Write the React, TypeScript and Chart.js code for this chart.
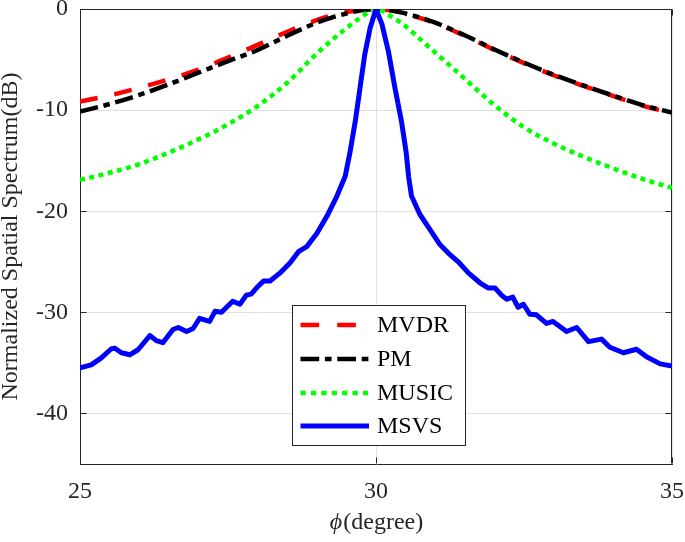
import React, { useEffect, useRef } from "react";
import { Chart, registerables } from "chart.js";

Chart.register(...registerables);

// ---- data ----
const phiGrid = [25, 25.5, 26, 26.5, 27, 27.5, 28, 28.5, 29, 29.25, 29.5, 29.75, 30, 30.25, 30.5, 30.75, 31, 31.5, 32, 32.5, 33, 33.5, 34, 34.5, 35];
const mvdr = [-9.15, -8.55, -7.8, -6.95, -6.0, -4.8, -3.55, -2.25, -1.1, -0.65, -0.3, -0.08, 0, -0.13, -0.48, -0.9, -1.4, -2.65, -4.05, -5.35, -6.55, -7.6, -8.6, -9.55, -10.3];
const pm = [-10.15, -9.4, -8.5, -7.45, -6.3, -5.15, -4.05, -2.65, -1.35, -0.85, -0.45, -0.12, 0, -0.12, -0.45, -0.85, -1.35, -2.6, -4.0, -5.3, -6.5, -7.55, -8.55, -9.5, -10.25];
const music = [-16.9, -16.2, -15.35, -14.2, -12.9, -11.4, -9.6, -7.3, -4.4, -3.1, -1.9, -0.8, 0, -0.7, -1.7, -3.0, -4.3, -6.9, -9.5, -11.7, -13.3, -14.6, -15.75, -16.8, -17.7];

const msvsPhi = [25.0, 25.19, 25.36, 25.53, 25.59, 25.7, 25.84, 25.98, 26.18, 26.29, 26.4, 26.57, 26.66, 26.8, 26.91, 27.02, 27.19, 27.28, 27.39, 27.58, 27.7, 27.81, 27.89, 27.98, 28.1, 28.21, 28.38, 28.55, 28.69, 28.83, 29.0, 29.17, 29.34, 29.48, 29.56, 29.65, 29.73, 29.81, 29.9, 30.0, 30.1, 30.21, 30.32, 30.43, 30.51, 30.55, 30.6, 30.74, 30.91, 31.08, 31.25, 31.39, 31.56, 31.76, 31.9, 32.01, 32.12, 32.21, 32.31, 32.4, 32.49, 32.6, 32.71, 32.88, 32.99, 33.22, 33.39, 33.59, 33.81, 33.95, 34.18, 34.4, 34.57, 34.8, 35.0];
const msvs = [-35.5, -35.2, -34.5, -33.6, -33.55, -34.0, -34.2, -33.7, -32.3, -32.8, -33.0, -31.7, -31.5, -31.9, -31.6, -30.6, -30.9, -29.9, -30.0, -28.9, -29.2, -28.3, -28.2, -27.6, -26.9, -26.9, -26.1, -25.1, -24.0, -23.5, -22.2, -20.5, -18.5, -16.55, -14.2, -11.1, -7.8, -4.5, -1.9, 0, -1.5, -4.2, -7.8, -11.1, -14.2, -16.55, -18.5, -20.3, -21.8, -23.3, -24.3, -25.0, -26.1, -27.1, -27.6, -27.6, -28.3, -28.7, -28.5, -29.5, -29.2, -30.2, -30.25, -31.1, -30.9, -31.9, -31.5, -32.9, -32.65, -33.45, -34.0, -33.65, -34.4, -35.1, -35.3];

const xTicks = [25, 30, 35];
const yTicks = [-40, -30, -20, -10, 0];
const seriesNames = ["MVDR", "PM", "MUSIC", "MSVS"];
const xTitleSymbol = "\u03D5";
const xTitleRest = "(degree)";
const yTitle = "Normalized Spatial Spectrum(dB)";

// ---- styles ----
const FONT = '"Liberation Serif", "Times New Roman", "DejaVu Serif", serif';
const AXIS_COLOR = "#262626";
const GRID_COLOR = "#e0e0e0";
const styles = [
  { color: "#ff0000", width: 4.5, dash: [18, 17], legendDash: [18.7, 18] },
  { color: "#000000", width: 4.5, dash: [18.5, 5.7, 6.5, 5.7], legendDash: [18.7, 5.7, 6.7, 5.7] },
  { color: "#00ff00", width: 4.5, dash: [5, 4.5], legendDash: [5.2, 5.2] },
  { color: "#0000ff", width: 5, dash: [], legendDash: [] },
];

const framePlugin = {
  id: "frameAndLegend",
  beforeDatasetsDraw(chart: any) {
    const { ctx, chartArea: a, scales } = chart;
    const top = Math.round(a.top) + 0.5;
    const right = Math.round(a.right) - 0.5;
    const left = Math.round(a.left) + 0.5;
    const bottom = Math.round(a.bottom) - 0.5;
    ctx.save();
    ctx.strokeStyle = AXIS_COLOR;
    ctx.lineWidth = 1;
    ctx.beginPath();
    ctx.moveTo(left, top);
    ctx.lineTo(right, top);
    ctx.lineTo(right, bottom);
    ctx.stroke();
    const tl = 6;
    ctx.beginPath();
    yTicks.forEach((v) => {
      const y = Math.round(scales.y.getPixelForValue(v)) + 0.5;
      ctx.moveTo(left, y);
      ctx.lineTo(left + tl, y);
      ctx.moveTo(right, y);
      ctx.lineTo(right - tl, y);
    });
    xTicks.forEach((v) => {
      const x = Math.round(scales.x.getPixelForValue(v)) + 0.5;
      ctx.moveTo(x, bottom);
      ctx.lineTo(x, bottom - tl);
      ctx.moveTo(x, top);
      ctx.lineTo(x, top + tl);
    });
    ctx.stroke();
    ctx.restore();
  },
  afterDraw(chart: any) {
    const { ctx, chartArea: a } = chart;
    ctx.save();
    // x axis title with italic phi
    ctx.fillStyle = AXIS_COLOR;
    ctx.textBaseline = "alphabetic";
    ctx.textAlign = "left";
    const symFont = `italic 24px ${FONT}`;
    const restFont = `24px ${FONT}`;
    ctx.font = symFont;
    const w1 = ctx.measureText(xTitleSymbol).width;
    ctx.font = restFont;
    const w2 = ctx.measureText(xTitleRest).width;
    const cx = (a.left + a.right) / 2;
    const x0 = cx - (w1 + w2) / 2;
    const baseY = 529;
    ctx.font = symFont;
    ctx.fillText(xTitleSymbol, x0, baseY);
    ctx.font = restFont;
    ctx.fillText(xTitleRest, x0 + w1 + 1, baseY);

    // legend box
    const bx = 292.5, by = 305.5, bw = 173, bh = 140;
    ctx.fillStyle = "#ffffff";
    ctx.fillRect(bx, by, bw, bh);
    ctx.strokeStyle = AXIS_COLOR;
    ctx.lineWidth = 1;
    ctx.setLineDash([]);
    ctx.strokeRect(bx, by, bw, bh);
    const rowY = [325, 359, 393, 426];
    seriesNames.forEach((name, i) => {
      const s = styles[i];
      ctx.strokeStyle = s.color;
      ctx.lineWidth = s.width;
      ctx.lineCap = "butt";
      ctx.setLineDash(s.legendDash);
      ctx.lineDashOffset = 0;
      ctx.beginPath();
      ctx.moveTo(300.5, rowY[i]);
      ctx.lineTo(369, rowY[i]);
      ctx.stroke();
      ctx.setLineDash([]);
      ctx.fillStyle = "#000000";
      ctx.font = `24px ${FONT}`;
      ctx.textBaseline = "middle";
      ctx.fillText(name, 377, rowY[i] + 1);
    });
    ctx.restore();
  },
};

export default function App() {
  const canvasRef = useRef<HTMLCanvasElement | null>(null);

  useEffect(() => {
    const canvas = canvasRef.current;
    if (!canvas) return;
    const seriesData = [
      phiGrid.map((x, i) => ({ x, y: mvdr[i] })),
      phiGrid.map((x, i) => ({ x, y: pm[i] })),
      phiGrid.map((x, i) => ({ x, y: music[i] })),
      msvsPhi.map((x, i) => ({ x, y: msvs[i] })),
    ];
    const datasets = seriesNames.map((name, i) => ({
      label: name,
      data: seriesData[i],
      borderColor: styles[i].color,
      backgroundColor: styles[i].color,
      borderWidth: styles[i].width,
      borderDash: styles[i].dash,
      borderCapStyle: "butt",
      borderJoinStyle: "round",
      pointRadius: 0,
      pointHoverRadius: 0,
      fill: false,
      tension: 0,
      cubicInterpolationMode: i === 3 ? "default" : "monotone",
      order: 4 - i,
      clip: 0,
    }));

    const tickFont = { family: FONT, size: 24 };
    const chart = new Chart(canvas, {
      type: "line",
      data: { datasets } as any,
      plugins: [framePlugin as any],
      options: {
        responsive: false,
        animation: false,
        devicePixelRatio: 1,
        layout: { padding: { top: 9, right: 13, left: 0, bottom: 0 } },
        plugins: {
          legend: { display: false },
          tooltip: { enabled: false },
          title: { display: false },
        },
        scales: {
          x: {
            type: "linear",
            min: 25,
            max: 35,
            afterBuildTicks: (s: any) => {
              s.ticks = xTicks.map((v) => ({ value: v }));
            },
            afterFit: (s: any) => {
              s.height = 78;
              s.paddingLeft = 0;
              s.paddingRight = 0;
            },
            grid: { color: GRID_COLOR, drawTicks: false, lineWidth: 1 },
            border: { display: true, color: AXIS_COLOR, width: 1 },
            ticks: {
              padding: 13,
              color: AXIS_COLOR,
              font: tickFont,
              maxRotation: 0,
              autoSkip: false,
              callback: (v: any) => String(v),
            },
          },
          y: {
            type: "linear",
            min: -45,
            max: 0,
            afterBuildTicks: (s: any) => {
              s.ticks = yTicks.map((v) => ({ value: v }));
            },
            afterFit: (s: any) => {
              s.width = 80;
              s.paddingTop = 0;
              s.paddingBottom = 0;
            },
            grid: { color: GRID_COLOR, drawTicks: false, lineWidth: 1 },
            border: { display: true, color: AXIS_COLOR, width: 1 },
            ticks: {
              padding: 12,
              color: AXIS_COLOR,
              font: tickFont,
              autoSkip: false,
              callback: (v: any) => String(v),
            },
            title: {
              display: true,
              text: yTitle,
              color: AXIS_COLOR,
              font: { family: FONT, size: 24, lineHeight: 0.875 },
              padding: 0,
            },
          },
        },
      } as any,
    });
    return () => chart.destroy();
  }, []);

  return (
    <div style={{ position: "fixed", left: 0, top: 0, width: 685, height: 542, background: "#ffffff" }}>
      <canvas ref={canvasRef} width={685} height={542} style={{ width: 685, height: 542, display: "block" }} />
    </div>
  );
}
